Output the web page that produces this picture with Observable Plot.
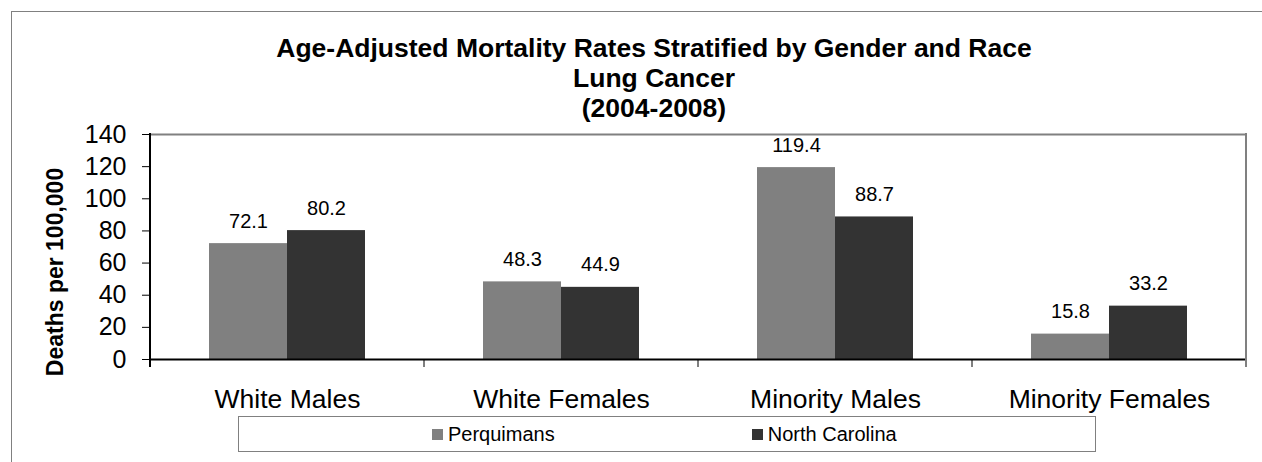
<!DOCTYPE html>
<html>
<head>
<meta charset="utf-8">
<script src="https://cdn.jsdelivr.net/npm/d3@7"></script>
<script src="https://cdn.jsdelivr.net/npm/@observablehq/plot@0.6"></script>
<style>
  html, body { margin: 0; padding: 0; background: #fff; }
  #root { position: relative; width: 1262px; height: 462px; overflow: hidden; background: #fff;
          font-family: "Liberation Sans", Arial, Helvetica, sans-serif; color: #000; }
  #outer { position: absolute; left: 11px; top: 11px; width: 1400px; height: 600px;
           border-left: 1px solid #808080; border-top: 1px solid #808080; }
  #title { position: absolute; left: 154px; top: 33px; width: 1000px; text-align: center;
           font-weight: bold; font-size: 26.5px; line-height: 30px; }
  #chart { position: absolute; left: 0; top: 120px; }
  #ytitle { position: absolute; left: 55px; top: 272px; width: 0; height: 0; }
  #ytitle span { position: absolute; white-space: nowrap; font-weight: bold; font-size: 23px;
                 transform: translate(-50%, -50%) rotate(-90deg); left: 0; top: 0; }
  #legend { position: absolute; left: 238px; top: 416px; width: 858px; height: 36px;
            border: 1px solid #808080; display: flex; align-items: center; box-sizing: border-box;
            padding-left: 193px; gap: 197px; font-size: 20px; }
  #legend .item { display: flex; align-items: center; }
  #legend .sw { width: 11px; height: 11px; margin-right: 5px; }
</style>
</head>
<body>
<div id="root">
  <div id="outer"></div>
  <div id="title"></div>
  <div id="chart"></div>
  <div id="ytitle"><span></span></div>
  <div id="legend"></div>
</div>
<script>
const titleLines = [
  "Age-Adjusted Mortality Rates Stratified by Gender and Race",
  "Lung Cancer",
  "(2004-2008)"
];
const yAxisTitle = "Deaths per 100,000";
const categories = ["White Males", "White Females", "Minority Males", "Minority Females"];
const series = ["Perquimans", "North Carolina"];
const perquimans = [72.1, 48.3, 119.4, 15.8];
const northCarolina = [80.2, 44.9, 88.7, 33.2];
const yTicks = [0, 20, 40, 60, 80, 100, 120, 140];
const colors = ["#808080", "#333333"];

const data = categories.flatMap((c, i) => [
  {cat: c, series: series[0], value: perquimans[i]},
  {cat: c, series: series[1], value: northCarolina[i]}
]);

document.getElementById("title").innerHTML = titleLines.map(t => `<div>${t}</div>`).join("");
document.querySelector("#ytitle span").textContent = yAxisTitle;

const chart = Plot.plot({
  width: 1262,
  height: 300,
  marginLeft: 150,
  marginRight: 16,
  marginTop: 14,
  marginBottom: 61,
  style: {fontFamily: "'Liberation Sans', Arial, sans-serif", color: "#000", background: "transparent", overflow: "visible"},
  fx: {domain: categories, padding: 0, label: null},
  x: {domain: series, paddingInner: 0, paddingOuter: 0.756, axis: null},
  y: {domain: [0, 140], label: null},
  color: {domain: series, range: colors},
  marks: [
    Plot.axisFx({anchor: "bottom", tickSize: 0, tickPadding: 30, fontSize: 26.5, label: null}),
    Plot.axisY(yTicks, {anchor: "left", tickSize: 8, tickPadding: 16, fontSize: 25, label: null, stroke: "#000"}),
    Plot.barY(data, {fx: "cat", x: "series", y: "value", fill: "series"}),
    Plot.text(data, {fx: "cat", x: "series", y: "value", text: d => d.value.toFixed(1),
                     dy: -16, lineAnchor: "bottom", fontSize: 20, fill: "#000"}),
    Plot.ruleY([140], {stroke: "#808080", strokeWidth: 2}),
    Plot.ruleY([0], {stroke: "#000", strokeWidth: 2})
  ]
});

// category boundary ticks, left axis line and right plot border from the library's scales
const fx = chart.scale("fx"), ys = chart.scale("y");
const y0 = ys.apply(0), yTop = ys.apply(140);
const edges = categories.map(c => fx.apply(c));
edges.push(fx.apply(categories[categories.length - 1]) + fx.bandwidth);
const g = d3.select(chart).append("g");
edges.forEach((x, i) => {
  const first = i === 0, last = i === edges.length - 1;
  g.append("line")
    .attr("x1", x).attr("x2", x)
    .attr("y1", first || last ? yTop - 1 : y0)
    .attr("y2", y0 + 8)
    .attr("stroke", last ? "#808080" : "#000")
    .attr("stroke-width", first || last ? 2 : 1);
});

document.getElementById("chart").appendChild(chart);

const legend = document.getElementById("legend");
series.forEach((s, i) => {
  const item = document.createElement("div");
  item.className = "item";
  item.innerHTML = `<span class="sw" style="background:${colors[i]}"></span><span>${s}</span>`;
  legend.appendChild(item);
});
</script>
</body>
</html>
